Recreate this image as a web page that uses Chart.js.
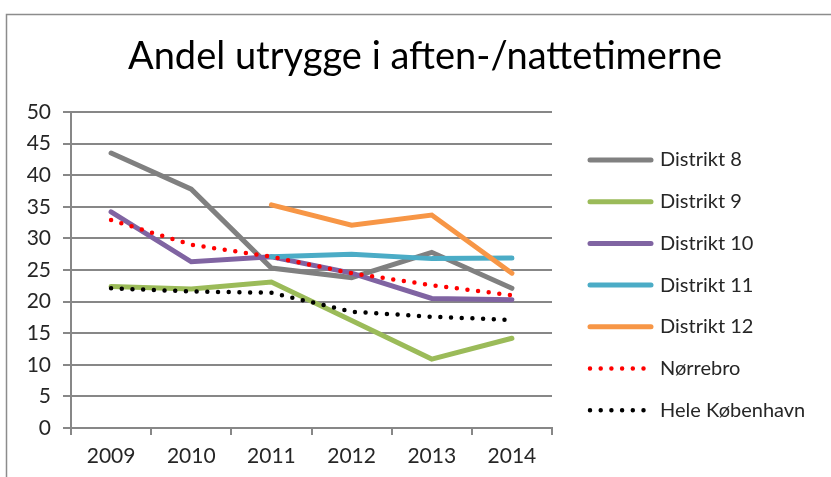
<!DOCTYPE html>
<html>
<head>
<meta charset="utf-8">
<title>Andel utrygge i aften-/nattetimerne</title>
<script src="https://cdn.jsdelivr.net/npm/chart.js@4.4.1/dist/chart.umd.min.js"></script>
<style>
    html, body { margin: 0; padding: 0; background: #ffffff; }
    #wrap { position: relative; width: 831px; height: 477px; }
</style>
</head>
<body>
<div id="wrap"><canvas id="chart" width="831" height="477"></canvas></div>
<script>
// Survey years
const years = ['2009', '2010', '2011', '2012', '2013', '2014'];

// Share feeling unsafe in the evening/night, per area (percent)
const distrikt8 = [43.5, 37.8, 25.3, 23.8, 27.8, 22.1];
const distrikt9 = [22.4, 22.0, 23.1, 17.0, 10.9, 14.2];
const distrikt10 = [34.2, 26.3, 27.1, 24.5, 20.5, 20.3];
const distrikt11 = [null, null, 27.1, 27.5, 26.8, 26.9];
const distrikt12 = [null, null, 35.3, 32.1, 33.7, 24.5];
const norrebro = [32.9, 29.0, 27.1, 24.5, 22.6, 21.0];
const heleKbh = [22.1, 21.6, 21.4, 18.4, 17.6, 17.1];

const yTicks = [0, 5, 10, 15, 20, 25, 30, 35, 40, 45, 50];

const FONT = 'Lato, "Open Sans", sans-serif';
const TEXT = '#262626';
const GRID = '#878787';
const DOTS = [0, 10.7];

function series(label, data, color, dotted) {
    return {
        label,
        data,
        borderColor: color,
        backgroundColor: color,
        borderWidth: dotted ? 4.5 : 5,
        borderDash: dotted ? DOTS : [],
        borderCapStyle: 'round',
        borderJoinStyle: 'miter',
        pointRadius: 0,
        tension: 0,
        spanGaps: false,
    };
}

const datasets = [
    series('Distrikt 8', distrikt8, '#808080', false),
    series('Distrikt 9', distrikt9, '#9BBB59', false),
    series('Distrikt 10', distrikt10, '#8064A2', false),
    series('Distrikt 11', distrikt11, '#4BACC6', false),
    series('Distrikt 12', distrikt12, '#F79646', false),
    series('Nørrebro', norrebro, '#FF0000', true),
    series('Hele København', heleKbh, '#000000', true),
];
// later series are painted on top
datasets.forEach((ds, i) => { ds.order = datasets.length - i; });

// Outer frame, title and the legend on the right
const decor = {
    id: 'decor',
    beforeDraw(chart) {
        const ctx = chart.ctx;
        ctx.save();
        ctx.strokeStyle = '#8c8c8c';
        ctx.lineWidth = 1.5;
        ctx.beginPath();
        ctx.moveTo(6.5, chart.height);
        ctx.lineTo(6.5, 14.5);
        ctx.lineTo(chart.width, 14.5);
        ctx.stroke();
        ctx.restore();
    },
    afterDraw(chart) {
        const ctx = chart.ctx;
        ctx.save();
        ctx.fillStyle = '#000000';
        ctx.font = '38px ' + FONT;
        ctx.textAlign = 'center';
        ctx.textBaseline = 'middle';
        ctx.fillText('Andel utrygge i aften-/nattetimerne', 425, 57);

        ctx.font = '20px ' + FONT;
        ctx.textAlign = 'left';
        chart.data.datasets.forEach((ds, i) => {
            const y = 160 + i * 41.7;
            const dotted = ds.borderDash.length > 0;
            ctx.strokeStyle = ds.borderColor;
            ctx.lineWidth = ds.borderWidth;
            ctx.lineCap = 'round';
            ctx.setLineDash(ds.borderDash);
            ctx.beginPath();
            ctx.moveTo(590, y);
            ctx.lineTo(dotted ? 648 : 651, y);
            ctx.stroke();
            ctx.setLineDash([]);
            ctx.fillStyle = TEXT;
            ctx.fillText(ds.label, 660, y);
        });
        ctx.restore();
    }
};

new Chart(document.getElementById('chart'), {
    type: 'line',
    data: { labels: years, datasets },
    plugins: [decor],
    options: {
        responsive: false,
        animation: false,
        layout: { padding: { left: 0, top: 112, right: 279, bottom: 0 } },
        plugins: {
            legend: { display: false },
            title: { display: false },
            tooltip: { enabled: false },
        },
        scales: {
            x: {
                offset: true,
                grid: {
                    offset: true,
                    drawOnChartArea: false,
                    drawTicks: true,
                    tickLength: 7,
                    color: GRID,
                    lineWidth: 2,
                },
                border: { color: GRID, width: 2 },
                ticks: { color: TEXT, font: { family: FONT, size: 21 }, padding: 9 },
                afterFit(scale) { scale.height = 49; },
            },
            y: {
                min: 0,
                max: 50,
                afterBuildTicks(scale) { scale.ticks = yTicks.map(v => ({ value: v })); },
                grid: { color: GRID, lineWidth: 2, drawTicks: true, tickLength: 8 },
                border: { color: GRID, width: 2 },
                ticks: { color: TEXT, font: { family: FONT, size: 21 }, padding: 12 },
                afterFit(scale) { scale.width = 71; },
            },
        },
    },
});
</script>
</body>
</html>
